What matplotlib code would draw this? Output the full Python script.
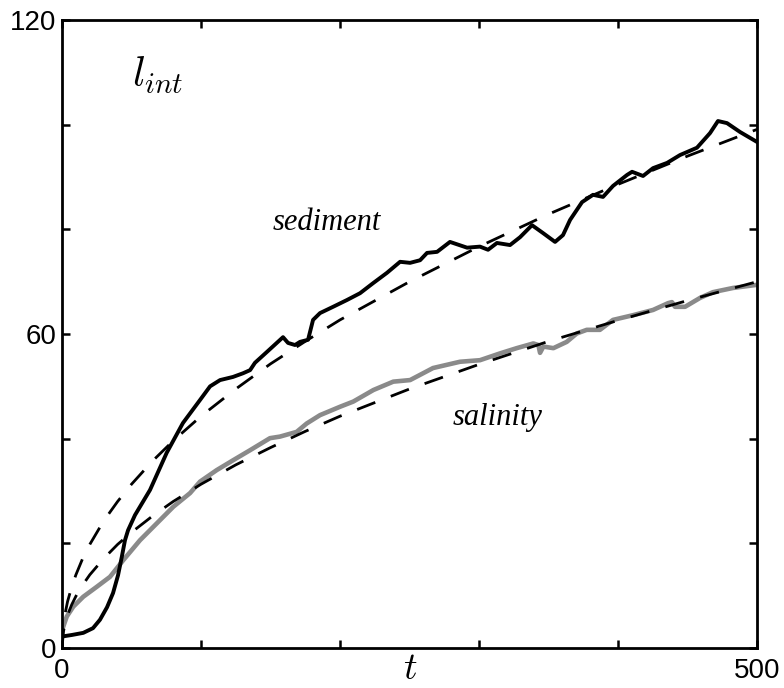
import matplotlib
matplotlib.use("Agg")
import matplotlib.pyplot as plt
from matplotlib.ticker import FixedLocator, FixedFormatter

plt.rcParams['mathtext.fontset'] = 'cm'

# sediment interface length (solid black)
sed_t = [0, 7.2, 15.3, 22.3, 27.3, 32.4, 36.7, 40.3, 43, 45.3, 47.5, 52.5, 56.1, 63.3,
         75.3, 87, 99.3, 106.5, 113.7, 123, 130.2, 135.3, 138.8, 147.5, 159, 162.6,
         167.6, 171.2, 177, 180.6, 185.6, 195, 205, 214.4, 223.7, 233.8, 243.2, 250.4,
         257.6, 262.6, 269.8, 279.1, 291.4, 300.7, 306.5, 312.9, 322.3, 329.5, 338.1,
         346, 354.7, 360.4, 365.5, 374.1, 382, 389.2, 396.4, 406.5, 410.1, 418, 425.2,
         435.3, 444.6, 456.8, 466.2, 471.9, 478.4, 487.8, 500]
sed_l = [2.2, 2.5, 2.9, 3.8, 5.4, 7.8, 10.5, 13.9, 17.4, 20.6, 22.5, 25.4, 27.0, 30.2,
         37.3, 43.0, 47.4, 50.0, 51.2, 51.8, 52.5, 53.1, 54.5, 56.6, 59.4, 58.3,
         57.9, 58.5, 58.9, 62.7, 64.0, 65.2, 66.5, 67.8, 69.7, 71.7, 73.8, 73.6,
         74.1, 75.5, 75.7, 77.6, 76.5, 76.7, 76.1, 77.4, 77.0, 78.5, 80.8,
         79.3, 77.6, 78.9, 81.8, 85.2, 86.6, 86.2, 88.3, 90.4, 91.0, 90.2, 91.7,
         92.7, 94.2, 95.6, 98.4, 100.7, 100.3, 98.6, 96.7]

# salinity interface length (solid grey)
sal_t = [0, 3.4, 8.1, 15.3, 25, 34.5, 44.1, 56.1, 68.1, 80.1, 92.1, 99.3, 111.3, 123.2,
         135.3, 149.6, 156.8, 168.8, 176, 185.6, 200, 209.6, 224, 238.3, 250.4, 257.6,
         266.9, 286.3, 300.7, 315.1, 327.1, 339.1, 342.7, 343.9, 346.3, 353.5, 363.1,
         370.3, 377.5, 387, 396.4, 410.8, 425.2, 436, 438.8, 441, 448.2, 459, 468.3,
         482.7, 500]
sal_l = [3.4, 6.0, 7.9, 9.8, 11.7, 13.6, 16.8, 20.6, 23.8, 27.0, 29.6, 31.8, 34.0, 35.9,
         37.8, 40.1, 40.4, 41.3, 42.9, 44.5, 46.1, 47.1, 49.3, 50.9, 51.2, 52.2,
         53.5, 54.7, 55.0, 56.3, 57.3, 58.2, 57.9, 56.4, 57.6, 57.3, 58.5,
         60.1, 60.8, 60.8, 62.7, 63.6, 64.6, 65.9, 66.1, 65.2, 65.2, 66.9, 68.0,
         68.8, 69.4]

# dashed fits
fit_t = [0, 1, 2, 4, 7, 10, 15, 20, 30, 40, 50, 65, 80, 100, 125, 150, 175, 200,
         250, 300, 350, 400, 450, 500]
sed_fit = [0, 4.4, 6.3, 8.9, 11.7, 14.0, 17.2, 19.8, 24.3, 28.0, 31.3, 35.7, 39.6,
           44.3, 49.5, 54.3, 58.6, 62.7, 70.0, 76.7, 82.9, 88.6, 94.0, 99.1]
sal_fit = [0, 3.1, 4.4, 6.3, 8.3, 9.9, 12.1, 14.0, 17.1, 19.8, 22.1, 25.2, 28.0,
           31.3, 35.0, 38.3, 41.4, 44.3, 49.5, 54.2, 58.6, 62.6, 66.4, 70.0]

xticks = [0, 100, 200, 300, 400, 500]
xlabels = ['0', '', '', '', '', '500']
yticks = [0, 20, 40, 60, 80, 100, 120]
ylabels = ['0', '', '', '60', '', '', '120']

fig = plt.figure(figsize=(7.84, 6.88), dpi=100)
ax = fig.add_axes([0.0791, 0.0581, 0.8865, 0.9128])

ax.plot(sal_t, sal_l, color='#8a8a8a', lw=3.3, solid_joinstyle='round', zorder=2)
ax.plot(fit_t, sed_fit, color='black', lw=2.0, dashes=(7, 6), zorder=3)
ax.plot(fit_t, sal_fit, color='black', lw=2.0, dashes=(7, 6), zorder=3)
ax.plot(sed_t, sed_l, color='black', lw=2.8, solid_joinstyle='round', zorder=4)

ax.set_xlim(0, 500)
ax.set_ylim(0, 120)

ax.xaxis.set_major_locator(FixedLocator(xticks))
ax.xaxis.set_major_formatter(FixedFormatter(xlabels))
ax.yaxis.set_major_locator(FixedLocator(yticks))
ax.yaxis.set_major_formatter(FixedFormatter(ylabels))
ax.tick_params(direction='in', length=6, width=1.8, top=True, right=True,
               labelsize=20)
ax.tick_params(axis='x', pad=7)
ax.tick_params(axis='y', pad=4)
for lab in ax.get_xticklabels() + ax.get_yticklabels():
    lab.set_family('Liberation Sans')
for sp in ax.spines.values():
    sp.set_linewidth(2.0)

ax.text(69, 109.5, r'$l_{int}$', fontsize=30, ha='center', va='center')
ax.text(190.6, 81.4, 'sediment', fontsize=22, style='italic', family='Liberation Serif',
        ha='center', va='center')
ax.text(313, 44, 'salinity', fontsize=22, style='italic', family='Liberation Serif',
        ha='center', va='center')
fig.text(0.523, 0.002, r'$t$', fontsize=27, ha='center', va='bottom')

fig.savefig('out.png', dpi=100)
